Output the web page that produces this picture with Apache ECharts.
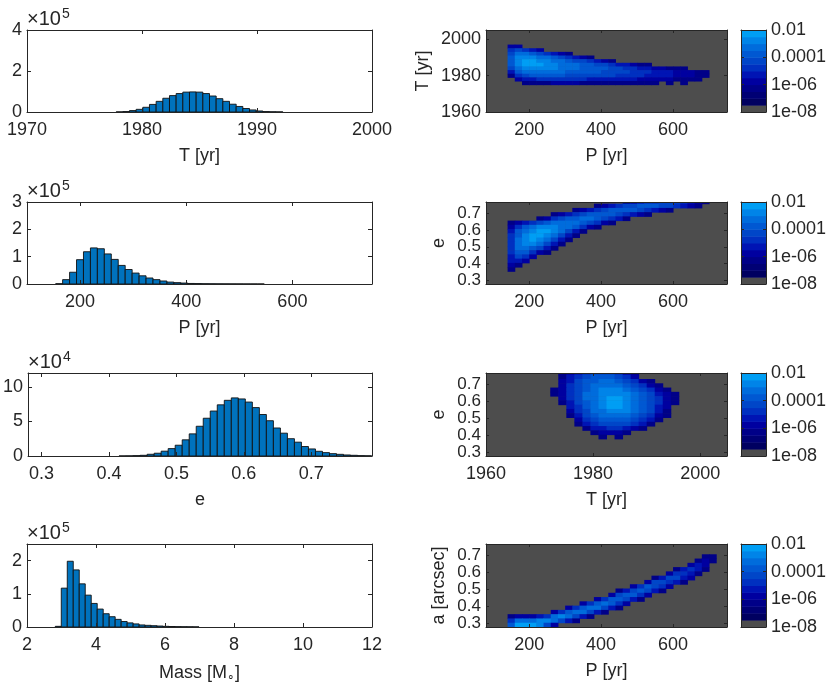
<!DOCTYPE html>
<html>
<head>
<meta charset="utf-8">
<script src="https://cdn.jsdelivr.net/npm/echarts@6/dist/echarts.min.js"></script>
<style>
  html, body { margin: 0; padding: 0; background: #fff; }
  #chart { width: 832px; height: 690px; }
</style>
</head>
<body>
<div id="chart"></div>
<script>
// ---- histograms (left column): first bin edge, bin width, heights (in units of 10^exp) ----
const tHistStart = 1977.75, tHistWidth = 0.58;
const tHistCounts = [0.005, 0.02, 0.07, 0.13, 0.23, 0.37, 0.52, 0.67, 0.80, 0.90, 0.97, 0.98, 0.97,
  0.90, 0.78, 0.65, 0.52, 0.38, 0.27, 0.17, 0.10, 0.05, 0.02, 0.01, 0.005];

const pHistStart = 154, pHistWidth = 13.1;
const pHistCounts = [0.01, 0.16, 0.43, 0.89, 1.18, 1.32, 1.29, 1.10, 0.90, 0.68, 0.53, 0.40, 0.30,
  0.22, 0.16, 0.11, 0.07, 0.05, 0.035, 0.02, 0.015, 0.01, 0.008, 0.006, 0.005, 0.004, 0.003,
  0.002, 0.002, 0.001];

const eHistStart = 0.415, eHistWidth = 0.0104;
const eHistCounts = [0.01, 0.02, 0.05, 0.1, 0.25, 0.4, 0.7, 1.07, 1.56, 2.34, 3.2, 4.3, 5.46, 6.5,
  7.4, 8.05, 8.4, 8.25, 7.8, 7.0, 6.0, 5.1, 4.05, 3.3, 2.5, 2.0, 1.37, 1.02, 0.68, 0.49, 0.34,
  0.24, 0.15, 0.1, 0.05, 0.03];

const mHistStart = 2.82, mHistWidth = 0.1736;
const mHistCounts = [0.02, 1.17, 1.98, 1.72, 1.30, 0.96, 0.71, 0.54, 0.40, 0.31, 0.23, 0.165,
  0.124, 0.093, 0.062, 0.05, 0.04, 0.03, 0.02, 0.015, 0.01, 0.008, 0.006, 0.004];

// ---- 2-D density maps: one entry per row (top row first): [first column, colour level per cell] ----
// T vs P : P columns of 20 yr from 80, T rows of 2 yr from 2005 down
const tpRows = [
  null, null, null, null,
  [3, "22"],
  [3, "45432"],
  [3, "577654321"],
  [3, "688877654321"],
  [3, "689988776554321"],
  [3, "68999887776655433211"],
  [3, "5788888777666655443322111"],
  [3, "3677777766666555544433322211"],
  [3, "1456666655555554444333322211"],
  [4, "23344444443333333222221111"],
  [5, "11112222111111111110101"],
  null, null, null, null, null, null, null, null
];
// e vs P : P columns of 20 yr from 80, e rows of 0.025 from 0.78 down
const epRows = [
  [19, "123445554321"],
  [15, "123455666554321"],
  [12, "12345666654321"],
  [9, "12345666654321"],
  [7, "1245667765431"],
  [3, "123456777765421"],
  [3, "2467888776421"],
  [3, "36789987531"],
  [3, "4689987531"],
  [3, "478987531"],
  [3, "47887531"],
  [3, "4776531"],
  [3, "466421"],
  [3, "3542"],
  [3, "332"],
  [3, "21"],
  [3, "1"],
  null, null, null
];
// e vs T : T columns of 1.5 yr from 1960, e rows of 0.025 from 0.78 down
const etRows = [
  [9, "1234555421"],
  [9, "1345666542"],
  [9, "235667765421"],
  [9, "2456777765421"],
  [8, "124567888765421"],
  [8, "1245778888765321"],
  [9, "245778998765421"],
  [9, "135678998765421"],
  [10, "3467899876532"],
  [10, "2457788876531"],
  [10, "1356777765421"],
  [11, "24566665431"],
  [11, "1345555431"],
  [12, "13344321"],
  [13, "12221"],
  [14, "101"],
  null, null, null, null
];
// a vs P : P columns of 20 yr from 80, a rows of 0.025 from 0.78 down
const apRows = [
  null, null, null,
  [30, "11"],
  [29, "121"],
  [28, "232"],
  [26, "13431"],
  [25, "24431"],
  [23, "135532"],
  [22, "255431"],
  [20, "246542"],
  [18, "1356531"],
  [17, "256642"],
  [15, "2466531"],
  [13, "2467642"],
  [11, "24677531"],
  [9, "24677531"],
  [3, "122234787531"],
  [3, "4777887531"],
  [3, "6999852"]
];

// colour bar: log10 density band edges, band colours (first = empty)
const cbEdges = [-8, -7.5, -7, -6.5, -6, -5.5, -5, -4.5, -4, -3.5, -3, -2.5, -2];
const cbColors = ['#4d4d4d', '#000060', '#000074', '#000088', '#0000a0', '#0014b4', '#0030c0',
  '#0046c8', '#0058d2', '#006cdc', '#0084e8', '#009ef4'];
const cbTickLabels = { '-2': '0.01', '-4': '0.0001', '-6': '1e-06', '-8': '1e-08' };

const FONT = '"Liberation Sans", Arial, Helvetica, sans-serif';
const INK = '#262626';
const BAR = '#0072BD';

const option = {
  animation: false,
  textStyle: { fontFamily: FONT },
  grid: [], xAxis: [], yAxis: [], series: []
};

const lbl = { fontSize: 18, color: INK, fontFamily: FONT };
const rich = {
  b: { fontSize: 20, lineHeight: 22, color: INK, fontFamily: FONT, verticalAlign: 'bottom' },
  s: { fontSize: 14, lineHeight: 14, color: INK, fontFamily: FONT, verticalAlign: 'top', padding: [0, 0, 6, 1] },
  m: { fontSize: 18, lineHeight: 22, color: INK, fontFamily: FONT },
  u: { fontSize: 12, lineHeight: 12, color: INK, fontFamily: FONT, verticalAlign: 'bottom', padding: [6, 0, 0, 0] }
};
const num = v => String(+(+v).toFixed(3));

function axisPair(dim, gi, p, range, ticks, main) {
  const arr = dim === 'x' ? option.xAxis : option.yAxis;
  const sides = dim === 'x' ? ['bottom', 'top'] : (main.labelsRight ? ['right', 'left'] : ['left', 'right']);
  sides.forEach((pos, k) => {
    const a = {
      gridIndex: gi, type: 'value', min: range[0], max: range[1], position: pos, z: 5,
      axisLine: { show: true, onZero: false, lineStyle: { color: INK, width: 1 } },
      axisTick: { show: !!ticks, inside: true, length: p.tick || 4, customValues: ticks,
        lineStyle: { color: INK, width: 1 } },
      axisLabel: { show: k === 0 && !!ticks, customValues: ticks, margin: main.margin,
        interval: 0, hideOverlap: false, showMinLabel: true, showMaxLabel: true,
        formatter: main.fmt || num, ...lbl, ...(main.labelStyle || {}) },
      splitLine: { show: false }
    };
    if (k === 0 && main.name) {
      a.name = main.name;
      a.nameLocation = main.nameLoc || 'middle';
      a.nameGap = main.gap;
      if (dim === 'y' && a.nameLocation === 'middle') a.nameRotate = 90;
      a.nameTextStyle = { ...lbl, rich, ...(main.nameStyle || {}) };
    }
    arr.push(a);
  });
  return arr.length - 2;
}

function addPanel(p) {
  const gi = option.grid.length;
  option.grid.push({ left: p.box[0], top: p.box[1], width: p.box[2], height: p.box[3],
    show: true, backgroundColor: p.bg || 'transparent', borderWidth: 0 });
  const xi = axisPair('x', gi, p, p.x, p.xt, { name: p.xname, gap: 35, margin: 9, fmt: p.xfmt });
  const yi = axisPair('y', gi, p, p.y, p.yt, {
    name: p.yname, gap: p.ygap, margin: 5, fmt: p.yfmt, labelsRight: p.labelsRight,
    nameLoc: p.ynameLoc, nameStyle: p.ynameStyle, labelStyle: p.ylabelStyle
  });
  return { xi, yi };
}

function rectItem(fillFn, stroke) {
  return function (params, api) {
    const a = api.coord([api.value(0), api.value(3)]);
    const b = api.coord([api.value(1), api.value(2)]);
    const pad = stroke ? 0 : 0.5;
    const cs = params.coordSys;
    const shape = echarts.graphic.clipRectByRect(
      { x: a[0], y: a[1], width: b[0] - a[0] + pad, height: b[1] - a[1] + pad },
      { x: cs.x, y: cs.y, width: cs.width, height: cs.height });
    if (!shape) return null;
    return { type: 'rect', shape,
      style: stroke ? { fill: fillFn(api), stroke: stroke, lineWidth: 0.9 } : { fill: fillFn(api) } };
  };
}

function histSeries(ax, start, width, counts) {
  option.series.push({
    type: 'custom', xAxisIndex: ax.xi, yAxisIndex: ax.yi, z: 2,
    data: counts.map((c, k) => [start + k * width, start + (k + 1) * width, 0, c]),
    renderItem: rectItem(() => BAR, '#111')
  });
}

function densitySeries(ax, rows, x0, dx, yTop, dy) {
  const data = [];
  rows.forEach((row, r) => {
    if (!row) return;
    const [c0, s] = row;
    for (let k = 0; k < s.length; k++) {
      const lv = +s[k];
      if (!lv) continue;
      const c = c0 + k;
      data.push([x0 + c * dx, x0 + (c + 1) * dx, yTop - (r + 1) * dy, yTop - r * dy, lv]);
    }
  });
  option.series.push({
    type: 'custom', xAxisIndex: ax.xi, yAxisIndex: ax.yi, z: 2, data,
    renderItem: rectItem(api => cbColors[api.value(4) + 2])
  });
}

function colorBar(top, h) {
  const ax = addPanel({ box: [741, top, 25, h], x: [0, 1], y: [-8, -2], yt: [-8, -6, -4, -2],
    labelsRight: true, tick: 3, yfmt: v => cbTickLabels[String(Math.round(v))] || '' });
  option.series.push({
    type: 'custom', xAxisIndex: ax.xi, yAxisIndex: ax.yi, z: 2,
    data: cbColors.map((c, k) => [0, 1, cbEdges[k], cbEdges[k + 1], k]),
    renderItem: rectItem(api => cbColors[api.value(4)])
  });
}

const expName = e => '{b|×10}{s|' + e + '}';
const expStyle = { align: 'left', verticalAlign: 'bottom' };
const eTicks = [0.3, 0.4, 0.5, 0.6, 0.7];
const e1 = v => (+v).toFixed(1);
const pTicks = [200, 400, 600];
const eLabel = { fontSize: 17 };   // tightly packed ticks: 17px keeps all five labels

// left column
let ax = addPanel({ box: [27, 30, 345, 82], x: [1970, 2000], xt: [1970, 1980, 1990, 2000],
  y: [0, 4], yt: [0, 2, 4], xname: 'T [yr]', yname: expName(5), ygap: 1, ynameLoc: 'end', ynameStyle: expStyle });
histSeries(ax, tHistStart, tHistWidth, tHistCounts);

ax = addPanel({ box: [27, 202, 345, 82], x: [100, 750], xt: pTicks,
  y: [0, 3], yt: [0, 1, 2, 3], xname: 'P [yr]', yname: expName(5), ygap: 1, ynameLoc: 'end', ynameStyle: expStyle });
histSeries(ax, pHistStart, pHistWidth, pHistCounts);

ax = addPanel({ box: [27, 373, 345, 83], x: [0.28, 0.79], xt: eTicks, xfmt: e1,
  y: [0, 12], yt: [0, 5, 10], xname: 'e', yname: expName(4), ygap: 1, ynameLoc: 'end', ynameStyle: expStyle });
histSeries(ax, eHistStart, eHistWidth, eHistCounts);

ax = addPanel({ box: [27, 544, 345, 83], x: [2, 12], xt: [2, 4, 6, 8, 10, 12],
  y: [0, 2.5], yt: [0, 1, 2], xname: '{m|Mass [M}{u|∘}{m|]}', yname: expName(5), ygap: 1, ynameLoc: 'end', ynameStyle: expStyle });
histSeries(ax, mHistStart, mHistWidth, mHistCounts);

// right column
const BG = '#4d4d4d';
ax = addPanel({ box: [486, 30, 241, 82], x: [80, 750], xt: pTicks, y: [1960, 2005], yt: [1960, 1980, 2000],
  xname: 'P [yr]', yname: 'T [yr]', ygap: 54, bg: BG, tick: 3 });
densitySeries(ax, tpRows, 80, 20, 2005, 2);
colorBar(30, 82);

ax = addPanel({ box: [486, 202, 241, 82], x: [80, 750], xt: pTicks, y: [0.28, 0.765], yt: eTicks, yfmt: e1,
  xname: 'P [yr]', yname: 'e', ygap: 38, bg: BG, tick: 3, ylabelStyle: eLabel });
densitySeries(ax, epRows, 80, 20, 0.78, 0.025);
colorBar(202, 82);

ax = addPanel({ box: [486, 373, 241, 83], x: [1960, 2005], xt: [1960, 1980, 2000], y: [0.28, 0.765], yt: eTicks, yfmt: e1,
  xname: 'T [yr]', yname: 'e', ygap: 38, bg: BG, tick: 3, ylabelStyle: eLabel });
densitySeries(ax, etRows, 1960, 1.5, 0.78, 0.025);
colorBar(373, 83);

ax = addPanel({ box: [486, 544, 241, 83], x: [80, 750], xt: pTicks, y: [0.28, 0.765], yt: eTicks, yfmt: e1,
  xname: 'P [yr]', yname: 'a [arcsec]', ygap: 38, bg: BG, tick: 3, ylabelStyle: eLabel });
densitySeries(ax, apRows, 80, 20, 0.78, 0.025);
colorBar(544, 83);

const chart = echarts.init(document.getElementById('chart'), null, { renderer: 'canvas' });
chart.setOption(option);
</script>
</body>
</html>
